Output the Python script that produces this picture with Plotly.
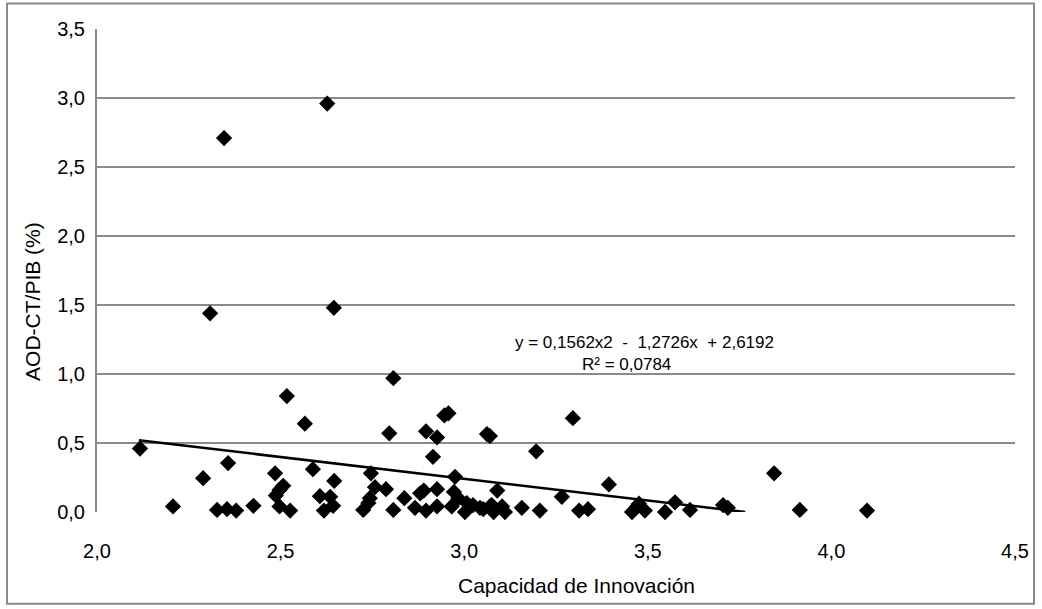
import plotly.graph_objects as go

# Scatter data
innovacion = [2.117, 2.207, 2.289, 2.308, 2.346, 2.327, 2.354, 2.357, 2.379, 2.426,
              2.485, 2.487, 2.497, 2.507, 2.497, 2.526, 2.517, 2.566, 2.588, 2.607,
              2.635, 2.643, 2.618, 2.627, 2.646, 2.645, 2.725, 2.739, 2.743, 2.746,
              2.757, 2.787, 2.796, 2.807, 2.807, 2.837, 2.866, 2.880, 2.890, 2.896,
              2.896, 2.915, 2.926, 2.926, 2.926, 2.946, 2.957, 2.966, 2.972, 2.975,
              2.984, 3.002, 3.007, 3.024, 3.043, 3.052, 3.062, 3.070, 3.070, 3.080,
              3.090, 3.075, 3.103, 3.111, 3.157, 3.196, 3.206, 3.266, 3.296, 3.313,
              3.337, 3.394, 3.457, 3.471, 3.476, 3.492, 3.547, 3.574, 3.615, 3.705,
              3.718, 3.844, 3.914, 4.097]
aod = [0.46, 0.04, 0.245, 1.44, 2.71, 0.015, 0.02, 0.355, 0.01, 0.045,
       0.28, 0.12, 0.16, 0.19, 0.04, 0.01, 0.84, 0.64, 0.31, 0.115,
       0.11, 0.045, 0.01, 2.96, 0.225, 1.48, 0.015, 0.065, 0.10, 0.28,
       0.18, 0.165, 0.57, 0.97, 0.015, 0.10, 0.03, 0.135, 0.155, 0.585,
       0.01, 0.40, 0.54, 0.165, 0.04, 0.70, 0.715, 0.04, 0.145, 0.255,
       0.10, 0.00, 0.065, 0.05, 0.03, 0.02, 0.565, 0.55, 0.04, 0.00,
       0.155, 0.05, 0.04, 0.00, 0.03, 0.44, 0.01, 0.11, 0.68, 0.01,
       0.02, 0.20, 0.00, 0.04, 0.06, 0.01, 0.00, 0.07, 0.015, 0.05,
       0.03, 0.28, 0.015, 0.01]

# Trend line as drawn in the picture
trend_x = [2.114, 2.94, 3.765]
trend_y = [0.52, 0.26, 0.0]

eq_text = "y = 0,1562x2  -  1,2726x  + 2,6192"
r2_text = "R² = 0,0784"

x_ticks = [2.0, 2.5, 3.0, 3.5, 4.0, 4.5]
y_ticks = [0.0, 0.5, 1.0, 1.5, 2.0, 2.5, 3.0, 3.5]

grid_col = "#8a8a8a"
tick_font = dict(family="Liberation Sans Narrow, Arial Narrow, sans-serif", size=20, color="#000000")
title_font = dict(family="Liberation Sans, Arial, sans-serif", size=21, color="#000000")

fig = go.Figure()
fig.add_trace(go.Scatter(
    x=innovacion, y=aod, mode="markers",
    marker=dict(symbol="diamond", size=12.5, color="#000000", line=dict(width=0)),
    showlegend=False, cliponaxis=False))
fig.add_trace(go.Scatter(
    x=trend_x, y=trend_y, mode="lines",
    line=dict(color="#000000", width=2.5), showlegend=False))

fig.update_layout(
    width=1042, height=609,
    margin=dict(l=97, r=27, t=29, b=97),
    paper_bgcolor="#ffffff", plot_bgcolor="#ffffff",
    separators=",.",
    xaxis=dict(range=[2.0, 4.5], tickvals=x_ticks, tickformat=".1f",
               showgrid=False, zeroline=False, showline=False,
               ticks="", tickfont=tick_font, ticklabelstandoff=25),
    yaxis=dict(range=[0.0, 3.5], tickvals=y_ticks, tickformat=".1f",
               showgrid=True, gridcolor=grid_col, gridwidth=2,
               zeroline=False, showline=True, linecolor=grid_col, linewidth=2,
               ticks="", tickfont=tick_font, ticklabelstandoff=6),
    annotations=[
        dict(text=eq_text, x=3.492, y=1.229, xref="x", yref="y", showarrow=False,
             font=dict(family="Liberation Sans, Arial, sans-serif", size=17, color="#000000"),
             xanchor="center", yanchor="middle"),
        dict(text=r2_text, x=3.443, y=1.07, xref="x", yref="y", showarrow=False,
             font=dict(family="Liberation Sans, Arial, sans-serif", size=17, color="#000000"),
             xanchor="center", yanchor="middle"),
        dict(text="Capacidad de Innovación", x=0.522, y=-0.152, xref="paper", yref="paper",
             showarrow=False, font=title_font, xanchor="center", yanchor="middle"),
        dict(text="AOD-CT/PIB (%)", x=-0.0697, y=0.435, xref="paper", yref="paper",
             showarrow=False, font=title_font, textangle=-90, xanchor="center", yanchor="middle"),
    ],
    shapes=[
        dict(type="rect", xref="paper", yref="paper", x0=-0.098, x1=1.0207, y0=-0.19, y1=1.053,
             line=dict(color=grid_col, width=2), fillcolor="rgba(0,0,0,0)", layer="below"),
    ],
)

fig.write_html("out.html", config={"displayModeBar": False})

# remove the default page margin so the figure sits at the window's top-left corner
with open("out.html", "r", encoding="utf-8") as f:
    html = f.read()
html = html.replace("<head>", "<head><style>html,body{margin:0;padding:0;}</style>", 1)
with open("out.html", "w", encoding="utf-8") as f:
    f.write(html)
